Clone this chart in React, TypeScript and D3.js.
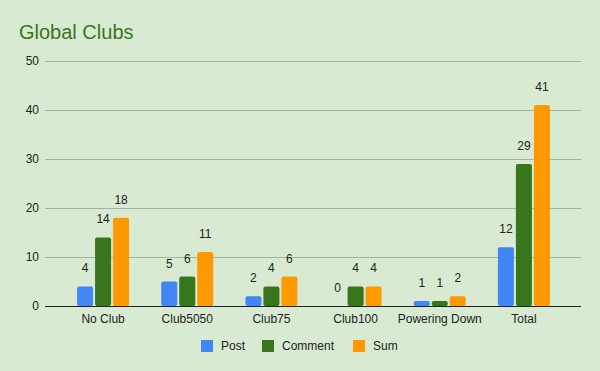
import * as d3 from "d3";
import { useEffect, useRef } from "react";

const categories = ["No Club", "Club5050", "Club75", "Club100", "Powering Down", "Total"];
const seriesNames = ["Post", "Comment", "Sum"];
const postValues = [4, 5, 2, 0, 1, 12];
const commentValues = [14, 6, 4, 4, 1, 29];
const sumValues = [18, 11, 6, 4, 2, 41];
const yTicks = [0, 10, 20, 30, 40, 50];
const colors = ["#4285f4", "#38761d", "#ff9900"];

export default function App() {
  const ref = useRef<SVGSVGElement>(null);

  useEffect(() => {
    document.body.style.margin = "0";
    const svg = d3.select(ref.current);
    svg.selectAll("*").remove();
    const width = 600, height = 371;
    const font = "Arial, 'Liberation Sans', sans-serif";

    svg.append("rect").attr("width", width).attr("height", height).attr("fill", "#d9ead3");

    svg.append("text").attr("x", 19).attr("y", 39)
      .style("font", "20px " + font).attr("fill", "#38761d").text("Global Clubs");

    const y = d3.scaleLinear().domain([0, 50]).range([306, 61]);
    const x = d3.scaleBand().domain(categories).range([61, 566]);
    const inner = d3.scaleBand().domain(seriesNames).range([-26, 26]).paddingInner(0.11);

    // grid
    svg.selectAll(".grid").data(yTicks.slice(1)).enter().append("line")
      .attr("x1", 45).attr("x2", 581)
      .attr("y1", d => y(d) + 0.5).attr("y2", d => y(d) + 0.5)
      .attr("stroke", "#a3b39e").attr("stroke-width", 1);

    svg.selectAll(".ylab").data(yTicks).enter().append("text")
      .attr("x", 39).attr("y", d => y(d) + 4)
      .attr("text-anchor", "end").style("font", "12px " + font).attr("fill", "#222")
      .text(d => d);

    const all = [postValues, commentValues, sumValues];
    all.forEach((vals, si) => {
      const g = svg.append("g");
      g.selectAll("rect").data(vals).enter().append("rect")
        .attr("x", (d, i) => (x(categories[i]) as number) + x.bandwidth() / 2 + (inner(seriesNames[si]) as number))
        .attr("y", d => y(d))
        .attr("width", inner.bandwidth())
        .attr("height", d => y(0) - y(d))
        .attr("rx", d => (d > 0 ? 2 : 0))
        .attr("fill", colors[si]);
      g.selectAll("text").data(vals).enter().append("text")
        .attr("x", (d, i) => (x(categories[i]) as number) + x.bandwidth() / 2 + (inner(seriesNames[si]) as number) + inner.bandwidth() / 2)
        .attr("y", d => y(d) - 14)
        .attr("text-anchor", "middle").style("font", "12px " + font).attr("fill", "#222")
        .text(d => d);
    });

    svg.append("line").attr("x1", 45).attr("x2", 581).attr("y1", 306.5).attr("y2", 306.5)
      .attr("stroke", "#222").attr("stroke-width", 1);

    svg.selectAll(".xlab").data(categories).enter().append("text")
      .attr("x", d => (x(d) as number) + x.bandwidth() / 2).attr("y", 323)
      .attr("text-anchor", "middle").style("font", "12px " + font).attr("fill", "#222")
      .text(d => d);

    // legend
    const legendX = [201, 262, 353];
    seriesNames.forEach((s, i) => {
      svg.append("rect").attr("x", legendX[i]).attr("y", 340).attr("width", 12).attr("height", 12)
        .attr("fill", colors[i]);
      svg.append("text").attr("x", legendX[i] + 20).attr("y", 350)
        .style("font", "12px " + font).attr("fill", "#222").text(s);
    });
  }, []);

  return (
    <div style={{ width: 600, height: 371 }}>
      <svg ref={ref} width={600} height={371} style={{ display: "block" }}></svg>
    </div>
  );
}
